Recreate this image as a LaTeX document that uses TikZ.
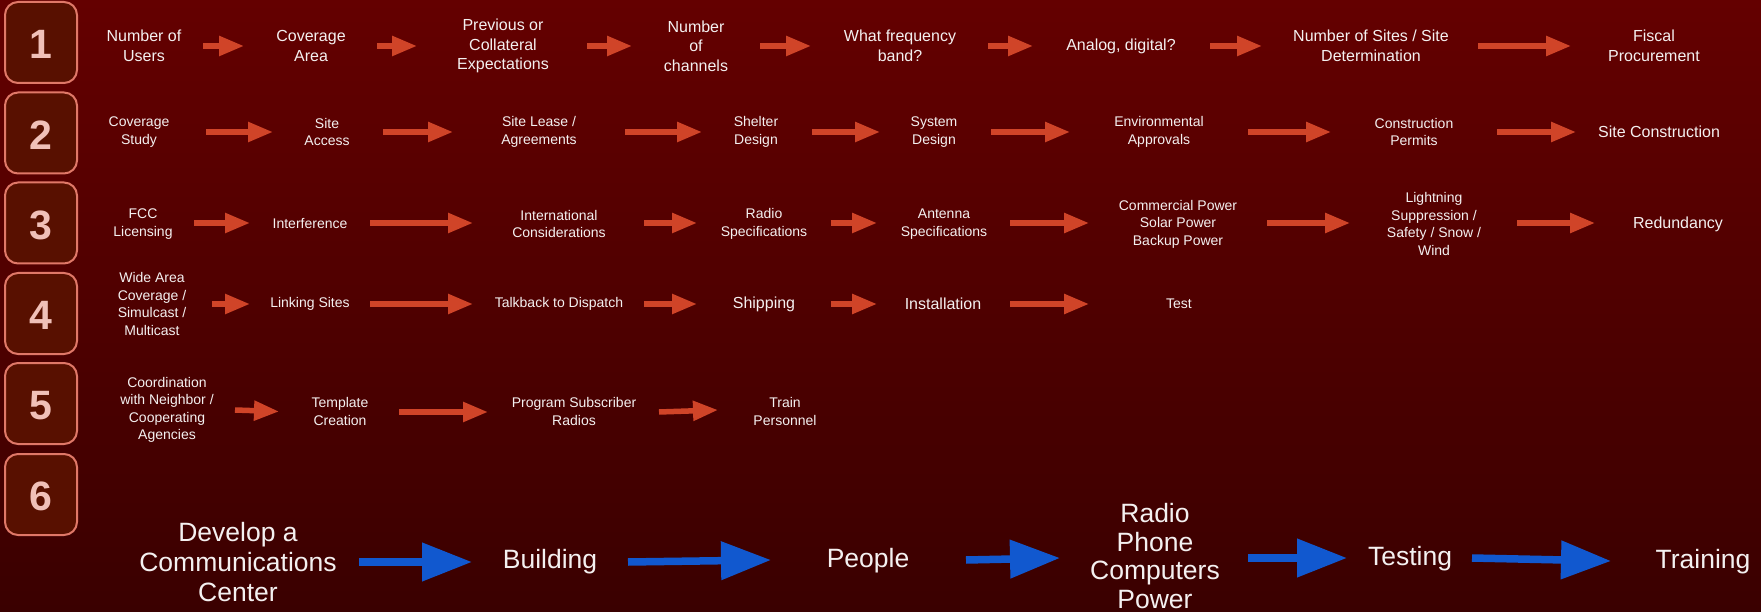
\documentclass[tikz,border=0pt]{standalone}
\usepackage{fontspec}
\setmainfont{Liberation Sans}
\usetikzlibrary{arrows.meta}
\definecolor{bgtop}{HTML}{640000}
\definecolor{bgbot}{HTML}{3A0000}
\definecolor{boxfill}{HTML}{581000}
\definecolor{boxline}{HTML}{E07868}
\definecolor{numcol}{HTML}{F0C0B8}
\definecolor{redarr}{HTML}{D04428}
\definecolor{bluearr}{HTML}{1158CF}
\definecolor{txt}{HTML}{F4F0F0}
\tikzset{
  numbox/.style={draw=boxline, line width=2pt, fill=boxfill, rounded corners=13pt,
    minimum width=72pt, minimum height=81pt, inner sep=0pt},
  numtxt/.style={text=numcol, font=\fontsize{41}{41}\selectfont\bfseries, inner sep=0pt},
  lbl/.style={text=txt, align=center, inner sep=0pt, font=\fontsize{14}{17.5}\selectfont},
  lblb/.style={text=txt, align=center, inner sep=0pt, font=\fontsize{16}{19.5}\selectfont},
  lblx/.style={text=txt, align=center, inner sep=0pt, font=\fontsize{26.5}{30}\selectfont},
  rarr/.style={draw=redarr, line width=5.5pt, -{Triangle[length=25pt,width=19pt]}},
  barr/.style={draw=bluearr, line width=7.5pt, -{Triangle[length=50pt,width=37pt]}},
}
\begin{document}
\begin{tikzpicture}[x=1pt,y=-1pt]
\shade[top color=bgtop, bottom color=bgbot] (0,0) rectangle (1761,612);
\useasboundingbox (0,0) rectangle (1761,612);
% number boxes
\foreach \n/\y in {1/42.5,2/133,3/223,4/313.5,5/403.5,6/494.5}{
  \node[numbox] (box\n) at (41,\y) {};
  \node[numtxt] (num\n) at (41,\y+2) {\n};
}
% Row 1
\node[lblb] (t11) at (144,46) {Number of\\Users};
\node[lblb] (t12) at (311,46) {Coverage\\Area};
\node[lblb] (t13) at (503,46) {Previous or\\Collateral\\Expectations};
\node[lblb] (t14) at (696,46) {Number\\of\\channels};
\node[lblb] (t15) at (900,46) {What frequency\\band?};
\node[lblb] (t16) at (1121,46) {Analog, digital?};
\node[lblb] (t17) at (1371,46) {Number of Sites / Site\\Determination};
\node[lblb] (t18) at (1654,46) {Fiscal\\Procurement};
\foreach \i/\a/\b in {1/203/244,2/377/417,3/587/632,4/760/811,5/988/1033,6/1210/1262,7/1478/1571}{
  \coordinate (r1s\i) at (\a,46); \coordinate (r1e\i) at (\b,46);
  \draw[rarr] (r1s\i) -- (r1e\i);
}
% Row 2
\node[lbl] (t21) at (139,132) {Coverage\\Study};
\node[lbl] (t22) at (327,132) {Site\\Access};
\node[lbl] (t23) at (539,132) {Site Lease /\\Agreements};
\node[lbl] (t24) at (756,132) {Shelter\\Design};
\node[lbl] (t25) at (934,132) {System\\Design};
\node[lbl] (t26) at (1159,132) {Environmental\\Approvals};
\node[lbl] (t27) at (1414,132) {Construction\\Permits};
\node[lblb] (t28) at (1659,132) {Site Construction};
\foreach \i/\a/\b in {1/206/273,2/383/453,3/625/702,4/812/880,5/991/1070,6/1248/1331,7/1497/1576}{
  \coordinate (r2s\i) at (\a,132); \coordinate (r2e\i) at (\b,132);
  \draw[rarr] (r2s\i) -- (r2e\i);
}
% Row 3
\node[lbl] (t31) at (143,224) {FCC\\Licensing};
\node[lbl] (t32) at (310,224) {Interference};
\node[lbl] (t33) at (559,224) {International\\Considerations};
\node[lbl] (t34) at (764,224) {Radio\\Specifications};
\node[lbl] (t35) at (944,224) {Antenna\\Specifications};
\node[lbl] (t36) at (1178,224) {Commercial Power\\Solar Power\\Backup Power};
\node[lbl] (t37) at (1434,224) {Lightning\\Suppression /\\Safety / Snow /\\Wind};
\node[lblb] (t38) at (1678,224) {Redundancy};
\foreach \i/\a/\b in {1/194/250,2/370/473,3/644/697,4/831/877,5/1010/1089,6/1267/1350,7/1517/1595}{
  \coordinate (r3s\i) at (\a,223); \coordinate (r3e\i) at (\b,223);
  \draw[rarr] (r3s\i) -- (r3e\i);
}
% Row 4
\node[lbl] (t41) at (152,304) {Wide Area\\Coverage /\\Simulcast /\\Multicast};
\node[lbl] (t42) at (310,304) {Linking Sites};
\node[lbl] (t43) at (559,304) {Talkback to Dispatch};
\node[lblb] (t44) at (764,304) {Shipping};
\node[lblb] (t45) at (943,304) {Installation};
\node[lbl] (t46) at (1179,304) {Test};
\foreach \i/\a/\b in {1/212/250,2/370/473,3/644/697,4/831/877,5/1010/1089}{
  \coordinate (r4s\i) at (\a,304); \coordinate (r4e\i) at (\b,304);
  \draw[rarr] (r4s\i) -- (r4e\i);
}
% Row 5
\node[lbl] (t51) at (167,410) {Coordination\\with Neighbor /\\Cooperating\\Agencies};
\node[lbl] (t52) at (340,411.5) {Template\\Creation};
\node[lbl] (t53) at (574,411.5) {Program Subscriber\\Radios};
\node[lbl] (t54) at (785,411.5) {Train\\Personnel};
\coordinate (r5s1) at (235,410); \coordinate (r5e1) at (279,411.5);
\coordinate (r5s2) at (399,412); \coordinate (r5e2) at (488,412);
\coordinate (r5s3) at (659,412); \coordinate (r5e3) at (718,410);
\draw[rarr] (r5s1) -- (r5e1);
\draw[rarr] (r5s2) -- (r5e2);
\draw[rarr] (r5s3) -- (r5e3);
% Row 6
\node[lblx] (t61) at (238,562) {Develop a\\Communications\\Center};
\node[lblx] (t62) at (550,562) {Building};
\node[lblx] (t63) at (868,561) {People};
\node[lblx, font=\fontsize{26.5}{28.5}\selectfont] (t64) at (1155,556) {Radio\\Phone\\Computers\\Power};
\node[lblx] (t65) at (1410,559) {Testing};
\node[lblx] (t66) at (1703,562) {Training};
\coordinate (r6s1) at (359,562); \coordinate (r6e1) at (472,562);
\coordinate (r6s2) at (628,562); \coordinate (r6e2) at (771,560);
\coordinate (r6s3) at (966,560); \coordinate (r6e3) at (1060,558);
\coordinate (r6s4) at (1248,558); \coordinate (r6e4) at (1347,558);
\coordinate (r6s5) at (1472,558); \coordinate (r6e5) at (1611,561);
\foreach \i in {1,...,5}{\draw[barr] (r6s\i) -- (r6e\i);}
\end{tikzpicture}
\end{document}
